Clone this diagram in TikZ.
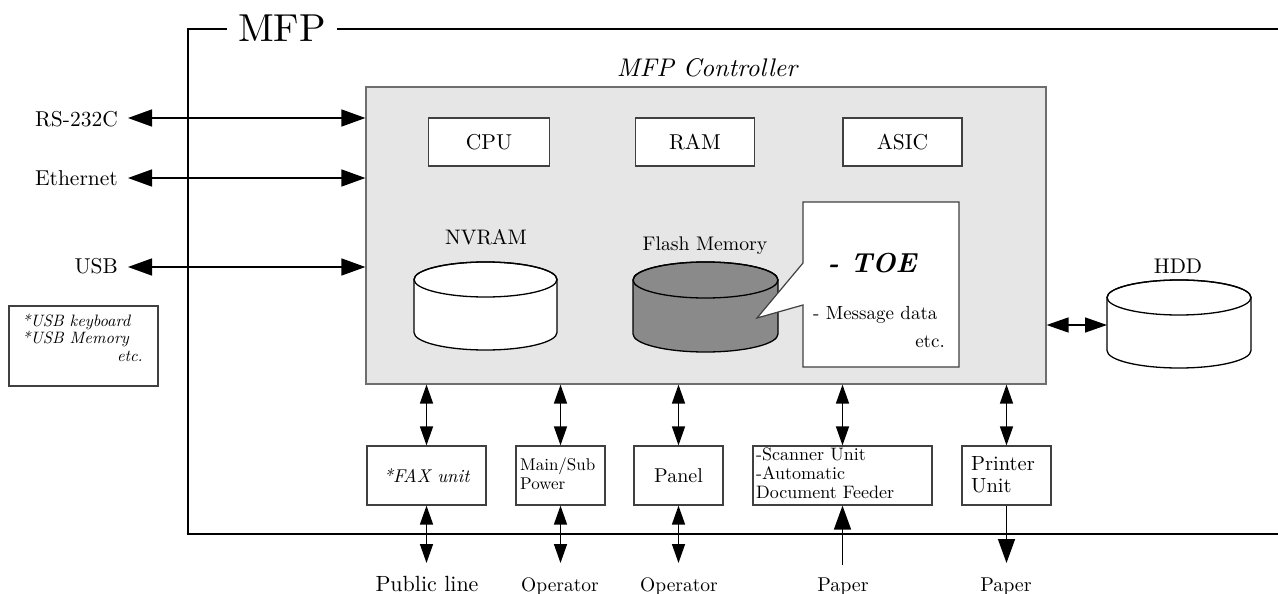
\documentclass[tikz,border=0pt]{standalone}
\usepackage{fontspec}
\setmainfont{lmroman10}[Extension=.otf,UprightFont=*-regular,ItalicFont=*-italic,BoldFont=*-bold,BoldItalicFont=*-bolditalic]
\usetikzlibrary{arrows.meta}
\newcommand\fsz[1]{\fontsize{#1}{#1}\selectfont}
\definecolor{boxgray}{HTML}{404040}
\definecolor{ctrlfill}{HTML}{E6E6E6}
\definecolor{ctrlline}{HTML}{6E6E6E}
\definecolor{flashgray}{HTML}{8A8A8A}
\begin{document}
\begin{tikzpicture}[x=1pt,y=-1pt,font=\fsz{21.5},
  box/.style={draw=boxgray,line width=1.2pt,fill=white,inner sep=0pt},
  lbl/.style={inner sep=0pt},
  frame/.style={line width=1.5pt,black},
  harr/.style={line width=1.5pt,{Triangle[length=24pt,width=17pt]}-{Triangle[length=24pt,width=17pt]}},
  hddarr/.style={line width=1.5pt,{Triangle[length=22pt,width=15pt]}-{Triangle[length=22pt,width=15pt]}},
  varr/.style={line width=1.5pt,{Triangle[length=19pt,width=13pt]}-{Triangle[length=19pt,width=13pt]}},
  parr/.style={line width=1.5pt,-{Triangle[length=24pt,width=17pt]}},
  cyl/.style={line width=1.3pt,draw=black}]
\useasboundingbox (0,0) rectangle (1278,594);

% outer MFP frame
\coordinate (fTL) at (188,29);
\coordinate (fBL) at (188,534);
\coordinate (fTR) at (1278,29);
\coordinate (fBR) at (1278,534);
\node[anchor=base,font=\fsz{39},inner sep=11pt] (mfp) at (282,42) {MFP};
\draw[frame] (mfp.west |- fTL) -- (fTL) -- (fBL) -- (fBR);
\draw[frame] (mfp.east |- fTL) -- (fTR);

% controller
\node[draw=ctrlline,line width=1.2pt,fill=ctrlfill,minimum width=680pt,minimum height=297pt,inner sep=0pt] (ctrl) at (706,235.5) {};
\node[anchor=base,lbl,font=\itshape\fsz{25.5}] (ctrlL) at (707,77) {MFP Controller};

\node[box,minimum width=121pt,minimum height=48pt] (cpu) at (489,142) {CPU};
\node[box,minimum width=119pt,minimum height=48pt] (ram) at (695,142) {RAM};
\node[box,minimum width=119pt,minimum height=48pt] (asic) at (902.5,142) {ASIC};

% NVRAM
\node[anchor=base,lbl,font=\fsz{21}] (nvL) at (486,244) {NVRAM};
\filldraw[cyl,fill=white] (414,279.5) -- (414,332.5)
  arc[start angle=180,end angle=360,x radius=71.5pt,y radius=17.5pt] -- (557,279.5)
  arc[start angle=0,end angle=180,x radius=71.5pt,y radius=17.5pt] -- cycle;
\draw[cyl] (485.5,279.5) ellipse[x radius=71.5pt,y radius=17.5pt];

% Flash memory
\node[anchor=base,lbl,font=\fsz{19.7}] (flL) at (705,250) {Flash Memory};
\filldraw[cyl,fill=flashgray] (633,280) -- (633,334)
  arc[start angle=180,end angle=360,x radius=72.5pt,y radius=18pt] -- (778,280)
  arc[start angle=0,end angle=180,x radius=72.5pt,y radius=18pt] -- cycle;
\draw[cyl] (705.5,280) ellipse[x radius=72.5pt,y radius=18pt];

% callout
\filldraw[draw=boxgray,line width=1.2pt,fill=white] (803,202) -- (959,202) -- (959,367) -- (803,367) -- (803,305) -- (757,318) -- (803,263) -- cycle;
\node[anchor=base,lbl,font=\bfseries\itshape\fsz{27.5}] (toe) at (872,272) {- TOE};
\node[anchor=base west,lbl,font=\fsz{19}] (msg) at (813,319) {- Message data};
\node[anchor=base east,lbl,font=\fsz{19}] (etc1) at (945,347) {etc.};

% HDD
\node[anchor=base,lbl,font=\fsz{21.2}] (hddL) at (1178,273) {HDD};
\filldraw[cyl,fill=white] (1107,297.5) -- (1107,350.5)
  arc[start angle=180,end angle=360,x radius=72pt,y radius=17.5pt] -- (1251,297.5)
  arc[start angle=0,end angle=180,x radius=72pt,y radius=17.5pt] -- cycle;
\draw[cyl] (1179,297.5) ellipse[x radius=72pt,y radius=17.5pt];
\coordinate (hddW) at (1107,325);
\draw[hddarr] (ctrl.east |- hddW) -- (hddW);

% left interfaces
\node[anchor=base east,lbl] (rs) at (118,126) {RS-232C};
\node[anchor=base east,lbl] (eth) at (118,185) {Ethernet};
\node[anchor=base east,lbl] (usb) at (118,273) {USB};
\coordinate (rsT) at (128,118);
\coordinate (ethT) at (128,178);
\coordinate (usbT) at (128,267);
\draw[harr] (rsT) -- (rsT -| ctrl.west);
\draw[harr] (ethT) -- (ethT -| ctrl.west);
\draw[harr] (usbT) -- (usbT -| ctrl.west);

\node[box,minimum width=149pt,minimum height=80pt] (usbnote) at (83.5,346) {};
\node[anchor=base west,lbl,font=\itshape\fsz{16.5}] (u1) at (22,326) {*USB keyboard};
\node[anchor=base west,lbl,font=\itshape\fsz{16.5}] (u2) at (22,343) {*USB Memory};
\node[anchor=base east,lbl,font=\itshape\fsz{16.5}] (u3) at (143,361) {etc.};

% bottom units
\node[box,minimum width=119pt,minimum height=59pt,font=\itshape\fsz{18.5}] (fax) at (426.5,475.5) {*FAX unit};
\node[box,minimum width=89pt,minimum height=59pt] (pwr) at (560.5,475.5) {};
\node[anchor=base west,lbl,font=\fsz{17}] (pwr1) at (520,470) {Main/Sub};
\node[anchor=base west,lbl,font=\fsz{17}] (pwr2) at (520,489) {Power};
\node[box,minimum width=89pt,minimum height=59pt,font=\fsz{20}] (pnl) at (678.5,475.5) {Panel};
\node[box,minimum width=179pt,minimum height=59pt] (scn) at (842.5,475.5) {};
\node[anchor=base west,lbl,font=\fsz{18}] (scn1) at (756,460) {-Scanner Unit};
\node[anchor=base west,lbl,font=\fsz{18}] (scn2) at (756,479) {-Automatic};
\node[anchor=base west,lbl,font=\fsz{18}] (scn3) at (756,498) {Document Feeder};
\node[box,minimum width=89pt,minimum height=59pt] (prn) at (1006.5,475.5) {};
\node[anchor=base west,lbl,font=\fsz{20.5}] (prn1) at (971,470) {Printer};
\node[anchor=base west,lbl,font=\fsz{20.5}] (prn2) at (971,492) {Unit};

\foreach \n in {fax,pwr,pnl,scn,prn}{
  \draw[varr] (\n.north |- ctrl.south) -- (\n.north);
}
\coordinate (faxB) at (426.5,563);
\coordinate (pwrB) at (560.5,563);
\coordinate (pnlB) at (678.5,563);
\coordinate (scnB) at (842.5,565);
\coordinate (prnB) at (1006.5,563);
\draw[varr] (fax.south) -- (faxB);
\draw[varr] (pwr.south) -- (pwrB);
\draw[varr] (pnl.south) -- (pnlB);
\draw[parr] (scnB) -- (scn.south);
\draw[parr] (prn.south) -- (prnB);

\node[anchor=base,lbl,font=\fsz{22}] (pub) at (427,591) {Public line};
\node[anchor=base,lbl,font=\fsz{19.5}] (op1) at (560,591) {Operator};
\node[anchor=base,lbl,font=\fsz{19.5}] (op2) at (679,591) {Operator};
\node[anchor=base,lbl,font=\fsz{20}] (pap1) at (843,591) {Paper};
\node[anchor=base,lbl,font=\fsz{20}] (pap2) at (1006,591) {Paper};
\end{tikzpicture}
\end{document}
